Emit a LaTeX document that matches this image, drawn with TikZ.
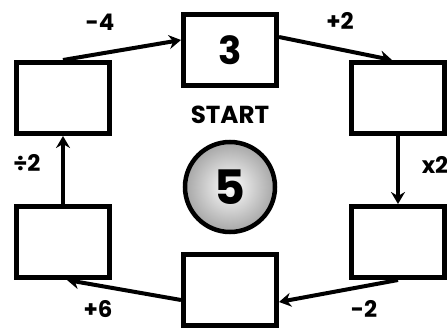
\documentclass[tikz,border=0pt]{standalone}
\usepackage{fontspec}
\setmainfont{Poppins}
\usetikzlibrary{arrows.meta,positioning}
\begin{document}
\begin{tikzpicture}[
	numbox/.style={draw, line width=0.1cm, minimum width=1.86cm, minimum height=1.42cm, inner sep=0pt, font=\bfseries\fontsize{22}{22}\selectfont},
	oplabel/.style={font=\bfseries\fontsize{13}{13}\selectfont},
	flow/.style={line width=0.08cm, -{Stealth[length=0.24cm,width=0.28cm,inset=0.08cm]}}
	]
	\useasboundingbox (0,0) rectangle (8.94,-6.58);
	% the six boxes of the chain
	\node[numbox] (top) at (4.6,-1.0) {3};
	\node[numbox] (rt) at (7.96,-1.96) {};
	\node[numbox] (rb) at (7.96,-4.84) {};
	\node[numbox] (bot) at (4.6,-5.8) {};
	\node[numbox] (lb) at (1.26,-4.84) {};
	\node[numbox] (lt) at (1.26,-1.96) {};
	% start value
	\node[font=\bfseries\fontsize{14}{14}\selectfont] (title) at (4.6,-2.3) {START};
	\node[circle, draw, line width=0.09cm, minimum size=1.8cm, inner sep=0pt, inner color=white, outer color=gray!70, font=\bfseries\fontsize{27}{27}\selectfont] (start) at (4.6,-3.74) {5};
	% arrows
	\draw[flow] (lt.north) -- ([yshift=0.2cm]top.west);
	\draw[flow] ([yshift=0.26cm]top.east) -- ([xshift=-0.12cm]rt.north);
	\draw[flow] (rt.south) -- (rb.north);
	\draw[flow] (rb.south) -- ([yshift=-0.24cm]bot.east);
	\draw[flow] ([yshift=-0.2cm]bot.west) -- ([xshift=0.08cm]lb.south);
	\draw[flow] (lb.north) -- (lt.south);
	% operations
	\node[oplabel] (op1) at (2.0,-0.44) {-4};
	\node[oplabel] (op2) at (6.8,-0.42) {+2};
	\node[oplabel] (op3) at (8.7,-3.3) {x2};
	\node[oplabel] (op4) at (7.28,-6.18) {-2};
	\node[oplabel] (op5) at (1.96,-6.18) {+6};
	\node[oplabel] (op6) at (0.54,-3.26) {÷2};
\end{tikzpicture}
\end{document}
